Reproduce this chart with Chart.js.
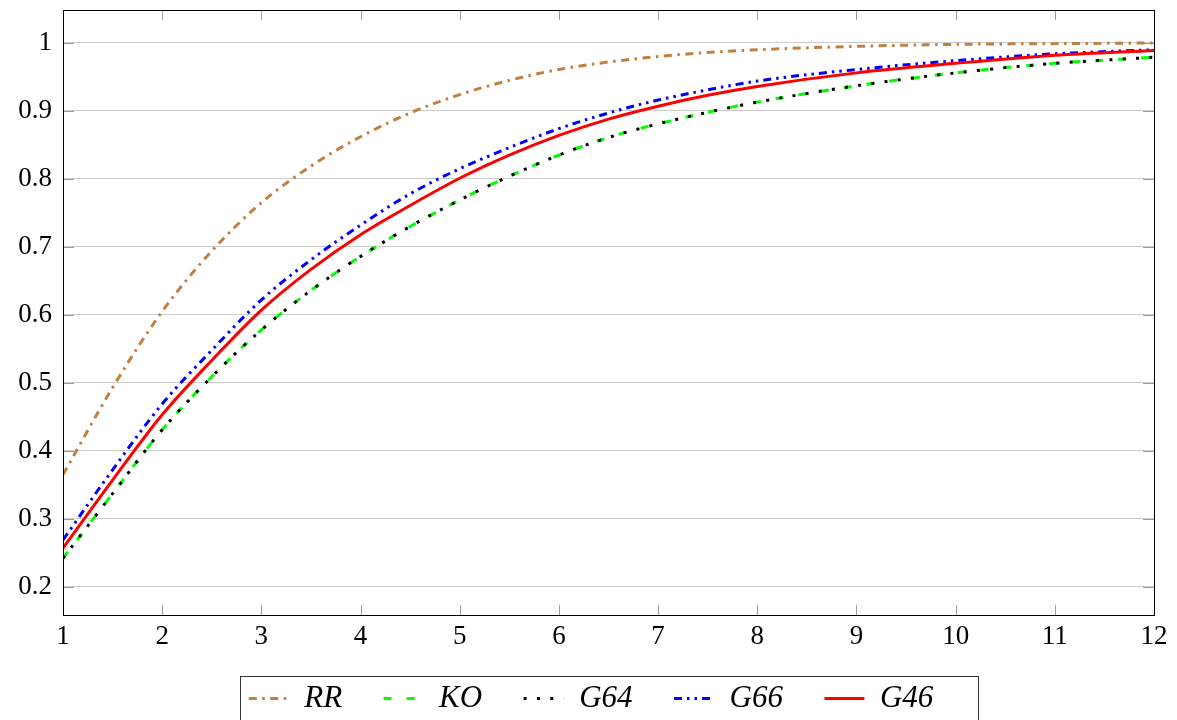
<!DOCTYPE html>
<html>
<head>
<meta charset="utf-8">
<script src="https://cdn.jsdelivr.net/npm/chart.js@4.4.1/dist/chart.umd.min.js"></script>
<style>
html,body{margin:0;padding:0;background:#fff;}
#wrap{width:1177px;height:720px;position:relative;}
</style>
</head>
<body>
<div id="wrap"><canvas id="c" width="1177" height="720"></canvas></div>
<script>
// ---- data ----
const xValues   = [1, 1.5, 2, 2.5, 3, 3.5, 4, 4.5, 5, 5.5, 6, 6.5, 7, 7.5, 8, 9, 10, 11, 12];
const rrValues  = [0.365, 0.493, 0.605, 0.694, 0.765, 0.819, 0.862, 0.897, 0.924, 0.945, 0.961, 0.972, 0.980, 0.986, 0.990, 0.995, 0.998, 0.999, 1.000];
const koValues  = [0.242, 0.337, 0.431, 0.509, 0.578, 0.636, 0.686, 0.730, 0.769, 0.804, 0.835, 0.861, 0.881, 0.898, 0.913, 0.937, 0.956, 0.970, 0.979];
const g64Values = [0.242, 0.337, 0.431, 0.509, 0.578, 0.636, 0.686, 0.730, 0.769, 0.804, 0.835, 0.861, 0.881, 0.898, 0.913, 0.937, 0.956, 0.970, 0.979];
const g66Values = [0.269, 0.372, 0.469, 0.548, 0.622, 0.681, 0.732, 0.778, 0.815, 0.846, 0.874, 0.897, 0.916, 0.931, 0.944, 0.961, 0.974, 0.984, 0.990];
const g46Values = [0.257, 0.357, 0.453, 0.533, 0.607, 0.667, 0.718, 0.761, 0.801, 0.835, 0.864, 0.888, 0.907, 0.923, 0.936, 0.956, 0.970, 0.982, 0.989];
const seriesLabels = ['RR', 'KO', 'G64', 'G66', 'G46'];
const xTickValues = [1, 2, 3, 4, 5, 6, 7, 8, 9, 10, 11, 12];
const yTickValues = [0.2, 0.3, 0.4, 0.5, 0.6, 0.7, 0.8, 0.9, 1];
const yTickLabels = ['0.2', '0.3', '0.4', '0.5', '0.6', '0.7', '0.8', '0.9', '1'];

const toPts = (arr) => xValues.map((x, i) => ({x: x, y: arr[i]}));

const serifFont = 'Liberation Serif';
const legendPad = 41.5;

function makeDs(label, data, color, dash, order) {
  return {
    label: label, data: toPts(data), borderColor: color, backgroundColor: color,
    borderWidth: 3, borderDash: dash, borderCapStyle: 'butt', pointRadius: 0,
    pointHoverRadius: 0, cubicInterpolationMode: 'monotone', fill: false, order: order
  };
}

const datasets = [
  makeDs(seriesLabels[0], rrValues,  'rgb(191,128,64)', [8, 5.5, 2.5, 5.5], 5),
  makeDs(seriesLabels[1], koValues,  'rgb(0,255,0)',    [8, 15], 4),
  makeDs(seriesLabels[2], g64Values, 'rgb(0,0,0)',      [3, 10.3], 3),
  makeDs(seriesLabels[3], g66Values, 'rgb(0,0,255)',    [8, 5, 2.5, 5, 2.5, 5], 2),
  makeDs(seriesLabels[4], g46Values, 'rgb(255,0,0)',    [], 1)
];

const framePlugin = {
  id: 'frame',
  afterLayout(chart) {
    const lg = chart.legend;
    const h = lg.height;
    lg.top = 683 - legendPad;
    lg.bottom = lg.top + h;
    lg.left += 14;
    lg.right += 14;
  },
  beforeDatasetsDraw(chart) {
    const {ctx, chartArea: a, scales: {x, y}} = chart;
    ctx.save();
    ctx.strokeStyle = '#9c9c9c';
    ctx.lineWidth = 1;
    ctx.beginPath();
    x.ticks.forEach(t => {
      const px = Math.round(x.getPixelForValue(t.value)) + 0.5;
      ctx.moveTo(px, a.bottom); ctx.lineTo(px, a.bottom - 10);
      ctx.moveTo(px, a.top); ctx.lineTo(px, a.top + 10);
    });
    y.ticks.forEach(t => {
      const py = Math.round(y.getPixelForValue(t.value)) + 0.5;
      ctx.moveTo(a.left, py); ctx.lineTo(a.left + 11, py);
      ctx.moveTo(a.right, py); ctx.lineTo(a.right - 11, py);
    });
    ctx.stroke();
    ctx.restore();
  },
  afterDraw(chart) {
    const {ctx, chartArea: a} = chart;
    ctx.save();
    ctx.strokeStyle = '#000';
    ctx.lineWidth = 1;
    ctx.strokeRect(Math.round(a.left) + 0.5, Math.round(a.top) + 0.5,
                   Math.round(a.right - a.left), Math.round(a.bottom - a.top));
    const hb = chart.legend.legendHitBoxes;
    if (hb && hb.length) {
      const left = hb[0].left - 9;
      const last = hb[hb.length - 1];
      const right = last.left + last.width + 44;
      ctx.strokeStyle = '#333';
      ctx.strokeRect(Math.round(left) + 0.5, 676.5, Math.round(right - left), 80);
    }
    ctx.restore();
  }
};

new Chart(document.getElementById('c'), {
  type: 'line',
  data: {datasets: datasets},
  plugins: [framePlugin],
  options: {
    responsive: false,
    animation: false,
    events: [],
    layout: {padding: {top: 10, right: 23, left: 0, bottom: 0}},
    plugins: {
      tooltip: {enabled: false},
      legend: {
        position: 'bottom',
        maxHeight: 69,
        labels: {
          usePointStyle: true,
          pointStyle: 'line',
          pointStyleWidth: 40,
          padding: legendPad,
          color: '#000',
          font: {family: serifFont, style: 'italic', size: 31},
          generateLabels(chart) {
            return chart.data.datasets.map((ds, i) => ({
              text: ds.label, fillStyle: ds.borderColor, strokeStyle: ds.borderColor,
              lineWidth: ds.borderWidth, lineDash: ds.borderDash, lineCap: 'butt',
              pointStyle: 'line', hidden: false, datasetIndex: i, fontColor: '#000'
            }));
          }
        }
      }
    },
    scales: {
      x: {
        type: 'linear', min: 1, max: 12,
        grid: {display: false, drawTicks: false},
        border: {display: false},
        afterBuildTicks(s) { s.ticks = xTickValues.map(v => ({value: v})); },
        afterFit(s) { s.height = 36; },
        ticks: {color: '#000', padding: 8, maxRotation: 0, autoSkip: false,
                font: {family: serifFont, size: 27, lineHeight: 1},
                callback: (v) => String(v)}
      },
      y: {
        type: 'linear', min: 0.1585, max: 1.0485,
        grid: {color: '#cccccc', lineWidth: 1, drawTicks: false},
        border: {display: false},
        afterBuildTicks(s) { s.ticks = yTickValues.map(v => ({value: v})); },
        afterFit(s) { s.width = 63; s.paddingTop = 0; s.paddingBottom = 0; },
        ticks: {color: '#000', padding: 11, autoSkip: false,
                font: {family: serifFont, size: 27},
                callback: (v) => { const i = yTickValues.indexOf(v); return i >= 0 ? yTickLabels[i] : ''; }}
      }
    }
  }
});
</script>
</body>
</html>
